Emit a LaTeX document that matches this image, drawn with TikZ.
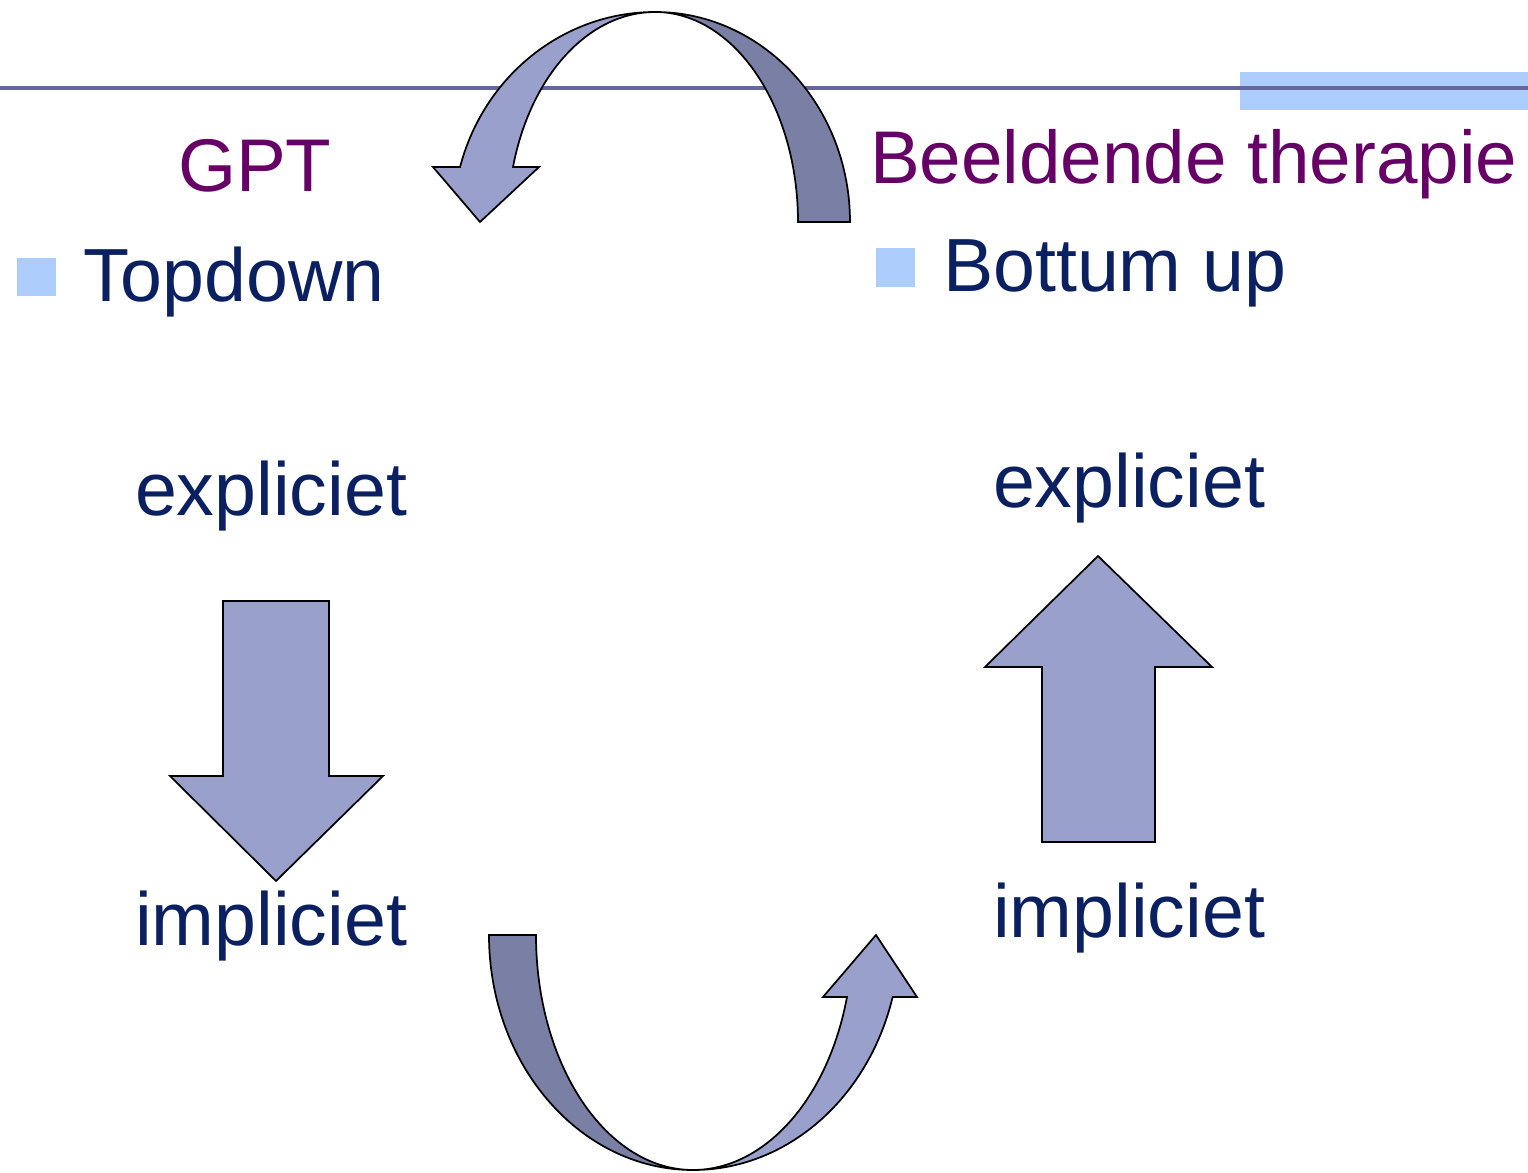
\documentclass[tikz,border=0pt]{standalone}
\usepackage{fontspec}
\setmainfont{Liberation Sans}
\definecolor{arrlight}{HTML}{99A0CC}
\definecolor{arrdark}{HTML}{7A7FA5}
\definecolor{rule}{HTML}{66669E}
\definecolor{bulletblue}{HTML}{ADCDFC}
\definecolor{navy}{HTML}{0A2060}
\definecolor{plum}{HTML}{660066}
\begin{document}
\begin{tikzpicture}[x=0.75pt,y=-0.75pt,
  arrshape/.style={draw=black,line width=1.3pt,line join=miter},
  txt/.style={anchor=base west,inner sep=0pt,outer sep=0pt,font=\fontsize{56.5}{60}\selectfont,text=navy},
  head/.style={anchor=base west,inner sep=0pt,outer sep=0pt,font=\fontsize{56}{60}\selectfont,text=plum},
  bullet/.style={fill=bulletblue,draw=none}]
\useasboundingbox (0,0) rectangle (1528,1173);
% decoration bar and rule
\fill[bulletblue] (1240,72) rectangle (1528,110);
\draw[rule,line width=3pt] (0,88) -- (1528,88);
% top curved arrow
\filldraw[arrshape,fill=arrdark] (655,12) arc[start angle=-90,end angle=0,x radius=195,y radius=210]
  -- (798,222) arc[start angle=0,end angle=-90,x radius=143,y radius=210] -- cycle;
\filldraw[arrshape,fill=arrlight] (655,12) arc[start angle=-90,end angle=-164.8,x radius=202,y radius=210]
  -- (433,167) -- (480,222) -- (539,167) -- (513,167)
  arc[start angle=-164.8,end angle=-90,x radius=147,y radius=210] -- cycle;
% bottom curved arrow
\filldraw[arrshape,fill=arrdark] (489,935) -- (536,935)
  arc[start angle=180,end angle=90,x radius=157,y radius=235]
  arc[start angle=90,end angle=180,x radius=204,y radius=235] -- cycle;
\filldraw[arrshape,fill=arrlight] (693,1170) arc[start angle=90,end angle=15.3,x radius=207,y radius=235]
  -- (917,997) -- (876,935) -- (823,997) -- (847,997)
  arc[start angle=15.3,end angle=90,x radius=160,y radius=235] -- cycle;
% straight arrows
\filldraw[arrshape,fill=arrlight] (223,601) -- (329,601) -- (329,776) -- (383,776) -- (276,881) -- (170,776) -- (223,776) -- cycle;
\filldraw[arrshape,fill=arrlight] (1042,842) -- (1155,842) -- (1155,667) -- (1212,667) -- (1098,556) -- (985,667) -- (1042,667) -- cycle;
% bullets
\fill[bullet] (17,258) rectangle (56,296);
\fill[bullet] (876,248) rectangle (915,287);
% texts
\node[head] (gpt) at (178,192) {GPT};
\node[head] (bt) at (870,184) {Beeldende therapie};
\node[txt] (td) at (83,302) {Topdown};
\node[txt] (bu) at (943,292) {Bottum up};
\node[txt] (el) at (135,515) {expliciet};
\node[txt] (il) at (135,945) {impliciet};
\node[txt] (er) at (993,507) {expliciet};
\node[txt] (ir) at (993,937) {impliciet};
\end{tikzpicture}
\end{document}
